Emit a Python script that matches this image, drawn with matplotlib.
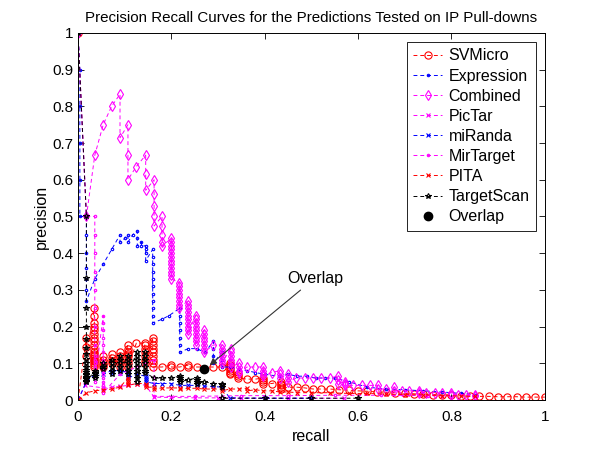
"""
Precision-recall curves for the predictions tested on IP pull-downs.
Writes out.png (600x450).
"""
import matplotlib
matplotlib.use("Agg")
import matplotlib.pyplot as plt

plt.rcParams.update({
    "font.family": ["Liberation Sans", "DejaVu Sans"],
    "font.size": 11,
    "axes.titlesize": 10.9,
    "axes.labelsize": 11.5,
    "legend.fontsize": 11.5,
    "xtick.labelsize": 11,
    "ytick.labelsize": 11,
})

# each curve: list of (recall, [precision values at that recall, in order])
svmicro = [
    (0.0, [1.0, 0.0]), (0.018, [0.17, 0.145, 0.12]),
    (0.035, [0.25, 0.23, 0.21, 0.2, 0.19, 0.18, 0.17, 0.16, 0.15, 0.14, 0.13,
             0.125, 0.12, 0.115, 0.11, 0.105, 0.1, 0.095, 0.09]),
    (0.054, [0.12, 0.11, 0.1, 0.095, 0.09]),
    (0.072, [0.125, 0.115, 0.105, 0.1]),
    (0.09, [0.13, 0.12, 0.11, 0.1, 0.09]),
    (0.107, [0.15, 0.14, 0.13, 0.125, 0.12, 0.11, 0.1, 0.09]),
    (0.125, [0.155]),
    (0.143, [0.155, 0.15, 0.14, 0.13, 0.12, 0.11, 0.1]),
    (0.16, [0.17, 0.16, 0.15, 0.14, 0.13, 0.12, 0.11, 0.1, 0.09]),
    (0.18, [0.09]), (0.2, [0.095, 0.09]), (0.218, [0.09]), (0.236, [0.095, 0.09]),
    (0.254, [0.09]), (0.29, [0.09]), (0.308, [0.09]),
    (0.325, [0.1, 0.095, 0.09, 0.085, 0.08, 0.075, 0.07]),
    (0.343, [0.07, 0.065, 0.06]), (0.362, [0.057]), (0.38, [0.057]),
    (0.397, [0.06, 0.055, 0.05, 0.045]), (0.415, [0.045]),
    (0.434, [0.05, 0.045, 0.04, 0.035, 0.03]), (0.45, [0.035]), (0.47, [0.035]),
    (0.486, [0.033]), (0.504, [0.03]), (0.52, [0.03]), (0.54, [0.03]),
    (0.56, [0.028]), (0.58, [0.027]), (0.6, [0.025]), (0.62, [0.024]),
    (0.64, [0.022]), (0.66, [0.021]), (0.68, [0.02]), (0.7, [0.018]),
    (0.72, [0.017]), (0.74, [0.016]), (0.76, [0.015]), (0.78, [0.014]),
    (0.8, [0.013]), (0.82, [0.012]), (0.84, [0.011]), (0.86, [0.01]),
    (0.88, [0.01]), (0.9, [0.009]), (0.92, [0.009]), (0.94, [0.009]),
    (0.96, [0.008]), (0.98, [0.008]), (1.0, [0.008]),
]

expression = [
    (0.0, [1.0]), (0.004, [0.9, 0.8, 0.7, 0.6, 0.5]),
    (0.018, [0.5, 0.45, 0.4, 0.36, 0.33, 0.3, 0.27]),
    (0.036, [0.33]), (0.054, [0.37]), (0.072, [0.41]), (0.09, [0.45, 0.43]),
    (0.1, [0.44]), (0.107, [0.45, 0.43]), (0.117, [0.45]),
    (0.127, [0.46, 0.44, 0.42]), (0.136, [0.43, 0.42]),
    (0.145, [0.42, 0.41, 0.4, 0.38]),
    (0.16, [0.41, 0.39, 0.37, 0.35, 0.33, 0.31, 0.29, 0.27, 0.25, 0.23, 0.21]),
    (0.18, [0.22]), (0.195, [0.23]),
    (0.218, [0.25, 0.23, 0.21, 0.19, 0.17, 0.15, 0.13]),
    (0.236, [0.14]), (0.254, [0.14]), (0.272, [0.13]),
    (0.29, [0.16, 0.14, 0.12, 0.1]), (0.308, [0.13, 0.11, 0.09]),
    (0.325, [0.09]), (0.345, [0.085]), (0.362, [0.08]), (0.38, [0.075]),
    (0.4, [0.07]), (0.43, [0.065]), (0.45, [0.07]), (0.47, [0.065]),
    (0.49, [0.065]), (0.51, [0.06]), (0.53, [0.06]), (0.55, [0.06]),
    (0.58, [0.05]), (0.62, [0.035]), (0.66, [0.03]), (0.7, [0.028]),
    (0.74, [0.025]), (0.78, [0.022]), (0.82, [0.018]), (0.85, [0.015]),
]

combined = [
    (0.0, [1.0]), (0.018, [0.5]), (0.036, [0.667]), (0.054, [0.75]),
    (0.072, [0.8]), (0.09, [0.833, 0.714]), (0.107, [0.75, 0.667, 0.6]),
    (0.125, [0.636]), (0.145, [0.667, 0.615, 0.571]),
    (0.163, [0.6, 0.5625, 0.529, 0.5, 0.474]),
    (0.18, [0.5, 0.474, 0.45, 0.43, 0.42]),
    (0.2, [0.44, 0.43, 0.42, 0.41, 0.4, 0.39, 0.38, 0.37, 0.36, 0.35, 0.34, 0.33]),
    (0.217, [0.32, 0.31, 0.3, 0.29, 0.28, 0.27, 0.26, 0.25]),
    (0.235, [0.27, 0.26, 0.25, 0.24, 0.23, 0.22, 0.21, 0.2, 0.19, 0.18]),
    (0.252, [0.23, 0.22, 0.21, 0.2, 0.19, 0.18, 0.17, 0.16, 0.15]),
    (0.27, [0.19, 0.18, 0.17, 0.16, 0.15, 0.14, 0.13]),
    (0.29, [0.15]),
    (0.308, [0.15, 0.14, 0.13, 0.12, 0.11, 0.1]),
    (0.327, [0.14, 0.13, 0.12, 0.11, 0.1, 0.09]),
    (0.345, [0.1, 0.09, 0.08, 0.075]), (0.362, [0.09]), (0.38, [0.09]),
    (0.397, [0.09, 0.08, 0.07, 0.065]), (0.415, [0.075]),
    (0.432, [0.08, 0.07, 0.06]), (0.45, [0.07, 0.06, 0.05]), (0.468, [0.06]),
    (0.486, [0.06]), (0.504, [0.06]), (0.52, [0.06]), (0.54, [0.06]),
    (0.556, [0.065, 0.055, 0.045]), (0.573, [0.05, 0.045, 0.04]),
    (0.59, [0.04]), (0.608, [0.04]), (0.625, [0.04]), (0.642, [0.04, 0.03]),
    (0.66, [0.03]), (0.677, [0.035, 0.025]), (0.694, [0.025]), (0.71, [0.025]),
    (0.73, [0.025, 0.02]), (0.746, [0.02]), (0.764, [0.02]), (0.78, [0.02]),
    (0.8, [0.02, 0.015]), (0.815, [0.015]), (0.832, [0.015]), (0.85, [0.015, 0.01]),
]

pictar = [
    (0.0, [0.0]), (0.015, [0.04]), (0.054, [0.033]), (0.072, [0.035]),
    (0.09, [0.037]), (0.107, [0.04]), (0.126, [0.045]), (0.145, [0.04]),
    (0.163, [0.008]), (0.2, [0.007]), (0.25, [0.006]), (0.3, [0.006]),
    (0.35, [0.005]), (0.4, [0.005]), (0.45, [0.005]), (0.5, [0.005]),
    (0.57, [0.005]),
]

miranda = [
    (0.0, [0.0]), (0.018, [0.05]), (0.036, [0.07, 0.065]), (0.054, [0.07]),
    (0.072, [0.08, 0.075]), (0.09, [0.085, 0.08, 0.075]),
    (0.107, [0.08, 0.075, 0.07, 0.065, 0.06]), (0.126, [0.07]),
    (0.145, [0.065, 0.06, 0.055, 0.05]), (0.163, [0.045]), (0.18, [0.045]),
    (0.2, [0.045]), (0.218, [0.04]), (0.236, [0.04]), (0.254, [0.04]),
    (0.27, [0.038]), (0.29, [0.037]), (0.308, [0.035]), (0.325, [0.006]),
    (0.4, [0.005]), (0.5, [0.005]),
]

mirtarget = [
    (0.0, [1.0]), (0.018, [0.5]),
    (0.036, [0.5, 0.45, 0.4, 0.35, 0.3, 0.25, 0.2, 0.15, 0.12, 0.11, 0.1, 0.09,
             0.08, 0.07, 0.06, 0.05]),
    (0.054, [0.23, 0.21, 0.19, 0.17, 0.15, 0.13, 0.11, 0.1, 0.09, 0.08, 0.07,
             0.06, 0.05, 0.04, 0.03, 0.02]),
    (0.09, [0.07]), (0.126, [0.09]), (0.163, [0.11, 0.01]), (0.25, [0.01]),
    (0.35, [0.012]), (0.45, [0.012]), (0.55, [0.013]), (0.65, [0.013]),
    (0.75, [0.012]), (0.85, [0.012]),
]

pita = [
    (0.0, [0.0]), (0.018, [0.02]), (0.036, [0.025]), (0.054, [0.028]),
    (0.072, [0.03]), (0.09, [0.035]), (0.107, [0.06, 0.055, 0.05, 0.045, 0.04]),
    (0.126, [0.045]), (0.145, [0.045, 0.04, 0.035]), (0.163, [0.035, 0.03]),
    (0.18, [0.033]), (0.2, [0.033]), (0.218, [0.033, 0.03]), (0.236, [0.032]),
    (0.254, [0.032]), (0.27, [0.03]), (0.29, [0.03]), (0.308, [0.03, 0.025]),
    (0.325, [0.03]), (0.345, [0.03]), (0.362, [0.032, 0.025]), (0.38, [0.028]),
    (0.397, [0.025]), (0.415, [0.025]), (0.432, [0.022]), (0.45, [0.022]),
    (0.47, [0.02]), (0.5, [0.02]), (0.54, [0.02]), (0.58, [0.018]),
    (0.62, [0.018]), (0.66, [0.016]), (0.7, [0.015]), (0.74, [0.014]),
    (0.78, [0.012]), (0.82, [0.011]), (0.85, [0.01]),
]

targetscan = [
    (0.0, [1.0]),
    (0.018, [0.5, 0.333, 0.25, 0.2, 0.167, 0.143, 0.125, 0.111, 0.1, 0.091,
             0.083, 0.077, 0.071, 0.067, 0.063, 0.059, 0.056, 0.053, 0.05]),
    (0.036, [0.08, 0.075, 0.07, 0.065, 0.06]), (0.054, [0.1, 0.09, 0.085]),
    (0.072, [0.11, 0.1, 0.09, 0.08, 0.07]),
    (0.09, [0.12, 0.11, 0.1, 0.09, 0.08]),
    (0.107, [0.12, 0.11, 0.1, 0.09, 0.08, 0.07]),
    (0.126, [0.13, 0.12, 0.11, 0.1, 0.09, 0.08, 0.07, 0.06, 0.05]),
    (0.143, [0.13, 0.12, 0.11, 0.1, 0.09, 0.08, 0.075]),
    (0.163, [0.06]), (0.18, [0.06]), (0.2, [0.06]),
    (0.218, [0.065, 0.06, 0.055, 0.05]), (0.236, [0.055]),
    (0.254, [0.06, 0.055, 0.05, 0.045]), (0.27, [0.05]), (0.29, [0.045]),
    (0.308, [0.045, 0.04, 0.035, 0.005]), (0.4, [0.005]), (0.5, [0.005]),
    (0.6, [0.005]),
]

overlap_recall = [0.27]
overlap_precision = [0.085]

# (label, data, color, marker, marker size)
SERIES = [
    ("SVMicro", svmicro, "#ff0000", "o", 5.2),
    ("Expression", expression, "#0000ff", ".", 3.5),
    ("Combined", combined, "#ff00ff", "d", 5.2),
    ("PicTar", pictar, "#ff00ff", "x", 3.5),
    ("miRanda", miranda, "#0000ff", "x", 3.5),
    ("MirTarget", mirtarget, "#ff00ff", ".", 3.5),
    ("PITA", pita, "#ff0000", "x", 3.5),
    ("TargetScan", targetscan, "#000000", "*", 4),
]


def flatten(cols):
    rec, prec = [], []
    for r, ps in cols:
        rec += [r] * len(ps)
        prec += ps
    return rec, prec


def main():
    fig = plt.figure(figsize=(6.0, 4.5), dpi=100)
    ax = fig.add_axes([0.13, 0.111, 0.778, 0.816])

    for label, cols, color, marker, ms in SERIES:
        rec, prec = flatten(cols)
        ax.plot(rec, prec, ls=(0, (4, 3)), lw=0.7, color=color, marker=marker,
                ms=ms, mfc="none", mec=color, mew=0.8, label=label)

    ax.plot(overlap_recall, overlap_precision, ls="none", marker="o", ms=6,
            color="black", label="Overlap", zorder=5)
    ax.annotate("Overlap", xy=(overlap_recall[0] + 0.012, overlap_precision[0] + 0.01),
                xytext=(0.448, 0.32), fontsize=11.5,
                arrowprops=dict(arrowstyle="-|>", color="#333333", lw=0.8,
                                shrinkA=2, shrinkB=0, mutation_scale=10))

    ax.set_xlim(0, 1)
    ax.set_ylim(0, 1)
    ax.set_xticks([0, 0.2, 0.4, 0.6, 0.8, 1])
    ax.set_xticklabels(["0", "0.2", "0.4", "0.6", "0.8", "1"])
    ax.set_yticks([0, 0.1, 0.2, 0.3, 0.4, 0.5, 0.6, 0.7, 0.8, 0.9, 1])
    ax.set_yticklabels(["0", "0.1", "0.2", "0.3", "0.4", "0.5", "0.6", "0.7",
                        "0.8", "0.9", "1"])
    ax.tick_params(direction="in", top=True, right=True, length=4, width=0.6)
    ax.tick_params(axis="x", pad=7)
    for sp in ax.spines.values():
        sp.set_linewidth(0.7)
    ax.set_xlabel("recall", labelpad=4)
    ax.set_ylabel("precision", labelpad=2)
    ax.set_title("Precision Recall Curves for the Predictions Tested on IP Pull-downs",
                 pad=8)

    leg = ax.legend(loc="upper right", bbox_to_anchor=(0.981, 0.975),
                    borderaxespad=0, handlelength=1.8, handletextpad=0.4,
                    labelspacing=0.32, borderpad=0.4, fancybox=False,
                    framealpha=1)
    leg.get_frame().set_edgecolor("black")
    leg.get_frame().set_linewidth(0.6)

    fig.savefig("out.png", dpi=100)
    plt.close(fig)


if __name__ == "__main__":
    main()
